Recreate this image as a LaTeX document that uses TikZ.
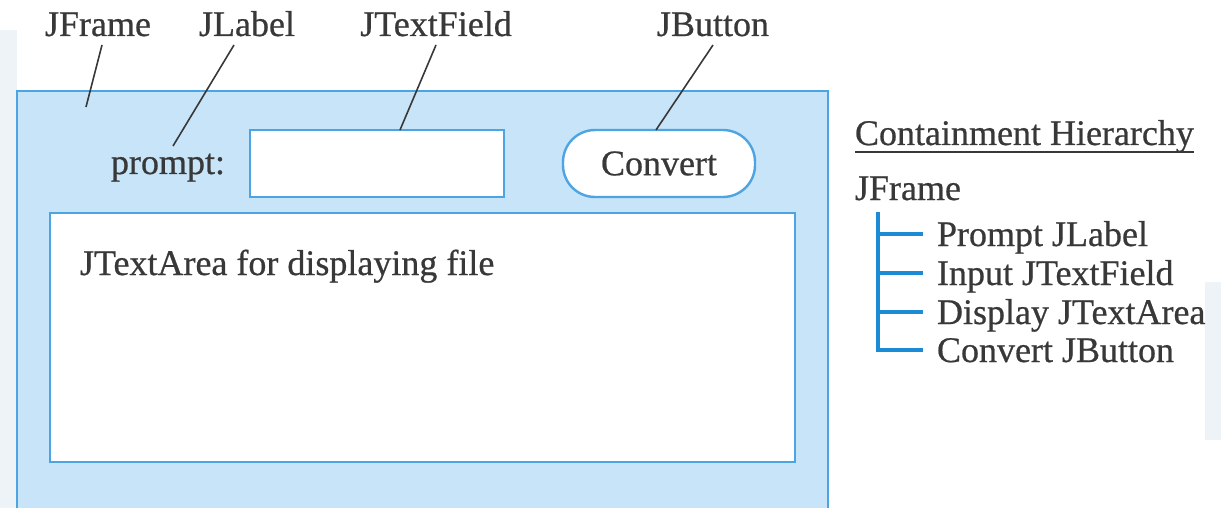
\documentclass[tikz,border=0pt]{standalone}
\usepackage{fontspec}
\setmainfont{Liberation Serif}[BoldFont=Liberation Serif, BoldFeatures={FakeBold=0.6}]
\usepackage{tikz}
\usetikzlibrary{positioning}

\definecolor{framefill}{HTML}{C8E4F8}
\definecolor{frameedge}{HTML}{4CA4E2}
\definecolor{treeblue}{HTML}{1C8BD6}
\definecolor{inkgray}{HTML}{383838}
\definecolor{sidegray}{HTML}{EEF3F7}

\begin{document}
\begin{tikzpicture}[x=0.5pt, y=-0.5pt, inner sep=0pt, outer sep=0pt,
	font=\fontsize{18}{20}\selectfont\bfseries, text=inkgray,
	widget box/.style={rectangle, draw=frameedge, line width=1.2pt, fill=white},
	pill box/.style={rectangle, rounded corners=16pt, draw=frameedge, line width=1.2pt, fill=white},
	top label/.style={anchor=base},
	leader/.style={draw=inkgray, line width=0.8pt},
	tree line/.style={draw=treeblue, line width=1.6pt},
	tree item/.style={anchor=base west},
]
\useasboundingbox (0,0) rectangle (1221,508);
% faint panels behind the figure
\fill [sidegray] (0,30) rectangle (17,508);
\fill [sidegray] (1205,282) rectangle (1221,440);
% the window
\node [rectangle, draw=frameedge, line width=1.2pt, fill=framefill, minimum width=405.5pt, minimum height=212pt, anchor=north west] at (17,91) (frame) {};
\node [widget box, minimum width=127pt, minimum height=33.5pt, anchor=north west] at (250,130) (field) {};
\node [pill box, minimum width=96pt, minimum height=33.5pt, anchor=north west] at (563,130) (button) {Convert};
\node [widget box, minimum width=372.5pt, minimum height=124.5pt, anchor=north west] at (50,213) (area) {};
\node [anchor=base west] at (80,275) (areatext) {JTextArea for displaying file};
\node [anchor=base west] at (111,174) (prompt) {prompt:};
% labels on top
\node [top label] at (98,36) (lblFrame) {JFrame};
\node [top label] at (247,36) (lblLabel) {JLabel};
\node [top label] at (436,36) (lblField) {JTextField};
\node [top label] at (713,36) (lblButton) {JButton};
\coordinate (inFrame) at (86,107);
\coordinate (atPrompt) at (173,146);
\coordinate (atField) at (400,130);
\coordinate (atButton) at (656,130);
\draw [leader] (102,45) -- (inFrame);
\draw [leader] (234,45) -- (atPrompt);
\draw [leader] (436,45) -- (atField);
\draw [leader] (713,45) -- (atButton);
% containment hierarchy
\node [anchor=base west] at (855,145) (cont) {Containment Hierarchy};
\draw [draw=inkgray, line width=0.9pt] ([yshift=-3.5pt]cont.base west) -- ([yshift=-3.5pt]cont.base east);
\node [anchor=base west] at (855,200) (root) {JFrame};
\node [tree item] at (937,246) (kid1) {Prompt JLabel};
\node [tree item] at (937,285) (kid2) {Input JTextField};
\node [tree item] at (937,324) (kid3) {Display JTextArea};
\node [tree item] at (937,362) (kid4) {Convert JButton};
\coordinate (trunk) at (878,212);
\foreach \k in {1,2,3,4}
	\coordinate (b\k) at ([xshift=-7pt, yshift=6pt]kid\k.base west);
\draw [tree line] (trunk) |- (b4);
\foreach \k in {1,2,3}
	\draw [tree line] (trunk |- b\k) -- (b\k);
\end{tikzpicture}
\end{document}
